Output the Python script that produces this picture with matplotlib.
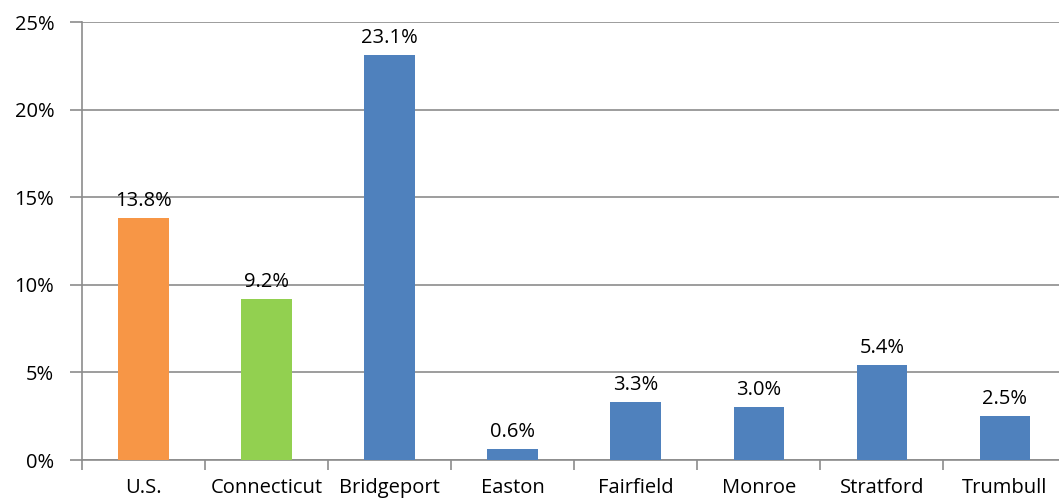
import matplotlib.pyplot as plt
from matplotlib.ticker import FixedLocator, PercentFormatter

# data
places = ["U.S.", "Connecticut", "Bridgeport", "Easton", "Fairfield",
          "Monroe", "Stratford", "Trumbull"]
rates = [13.8, 9.2, 23.1, 0.6, 3.3, 3.0, 5.4, 2.5]
colors = ["#F79646", "#92D050"] + ["#4F81BD"] * 6

plt.rcParams["font.family"] = ["Open Sans", "DejaVu Sans"]

fig = plt.figure(figsize=(10.59, 5.04), dpi=100)
ax = fig.add_axes([82 / 1059, 1 - 460 / 504, 1 - 82 / 1059, (460 - 22) / 504])

x = range(len(places))
ax.bar(x, rates, width=0.41, color=colors, zorder=3)
for i, v in zip(x, rates):
    ax.text(i, v + 0.4, f"{v:.1f}%", ha="center", va="bottom", fontsize=14.5)

ax.set_ylim(0, 25)
ax.set_xlim(-0.5, 7.44)
ax.set_yticks([0, 5, 10, 15, 20, 25])
ax.yaxis.set_major_formatter(PercentFormatter(decimals=0))
ax.yaxis.grid(True, color="#8c8c8c", linewidth=1.2, zorder=0)

# category labels without ticks, boundary ticks separately
ax.set_xticks(list(x))
ax.set_xticklabels(places, fontsize=14.5)
ax.tick_params(axis="x", length=0, pad=13)
ax.xaxis.set_minor_locator(FixedLocator([i - 0.5 for i in range(len(places) + 1)]))
ax.tick_params(axis="x", which="minor", length=7, width=1.2, color="#8c8c8c")
ax.tick_params(axis="y", length=9, width=1.2, color="#8c8c8c", labelsize=14.5, pad=11)

for s in ["top", "right"]:
    ax.spines[s].set_visible(False)
for s in ["left", "bottom"]:
    ax.spines[s].set_color("#8c8c8c")
    ax.spines[s].set_linewidth(1.2)

fig.savefig("out.png", dpi=100)
